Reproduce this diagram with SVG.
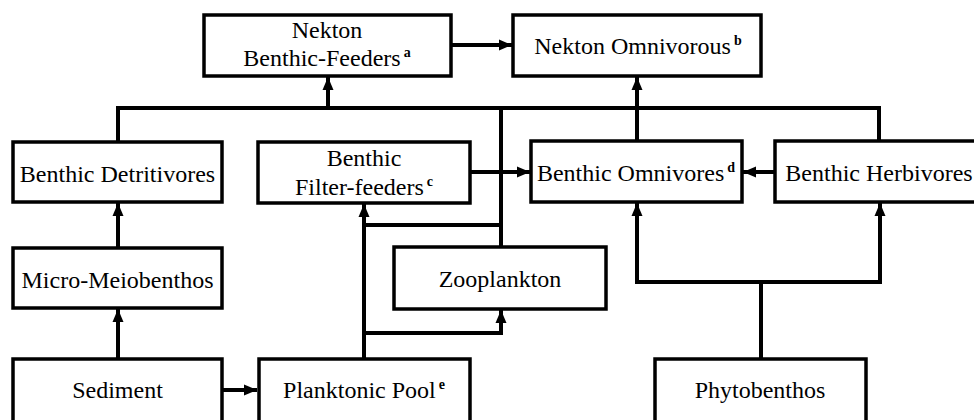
<svg xmlns="http://www.w3.org/2000/svg" width="974" height="420" viewBox="0 0 974 420">
<style>
.box{fill:#fff;stroke:#000;stroke-width:3.5}
.lbl{font-family:"Liberation Serif","Times New Roman",serif;font-size:24px;fill:#000;text-anchor:middle}
.sup{font-weight:bold;font-size:14px}
.c{fill:none;stroke:#000;stroke-width:4}
.a{marker-end:url(#ah)}
</style>
<defs>
<marker id="ah" markerUnits="userSpaceOnUse" markerWidth="14" markerHeight="12" refX="13" refY="6" orient="auto">
<path d="M0,0.5 L13,6 L0,11.5 z" fill="#000"/>
</marker>
</defs>
<rect width="974" height="420" fill="#fff"/>
<g id="connectors">
<path class="c" d="M118,142 V108 H879 V141"/>
<path class="c a" d="M328,108 V77"/>
<path class="c" d="M501,247 V108"/>
<path class="c a" d="M637,141 V77"/>
<path class="c a" d="M451,45 H512"/>
<path class="c a" d="M470,172 H530"/>
<path class="c a" d="M775,172 H743"/>
<path class="c a" d="M118,248 V203"/>
<path class="c a" d="M118,358 V309"/>
<path class="c a" d="M222,390 H257"/>
<path class="c a" d="M364,358 V204"/>
<path class="c" d="M364,225 H501"/>
<path class="c a" d="M364,333 H501 V310"/>
<path class="c" d="M761,358 V282"/>
<path class="c a" d="M761,282 H637 V203"/>
<path class="c a" d="M761,282 H880 V203"/>
</g>
<g id="nekton-benthic-feeders">
<rect class="box" x="204" y="15" width="247" height="61"/>
<text class="lbl" x="327" y="38">Nekton</text>
<text class="lbl" x="327" y="66">Benthic-Feeders<tspan class="sup" dx="3" dy="-9">a</tspan></text>
</g>
<g id="nekton-omnivorous">
<rect class="box" x="513" y="15" width="248" height="61"/>
<text class="lbl" x="638" y="54">Nekton Omnivorous<tspan class="sup" dx="3" dy="-9">b</tspan></text>
</g>
<g id="benthic-detritivores">
<rect class="box" x="13" y="142" width="209" height="60"/>
<text class="lbl" x="117.5" y="182">Benthic Detritivores</text>
</g>
<g id="benthic-filter-feeders">
<rect class="box" x="258" y="142" width="212" height="61"/>
<text class="lbl" x="364" y="166">Benthic</text>
<text class="lbl" x="364" y="195">Filter-feeders<tspan class="sup" dx="3" dy="-9">c</tspan></text>
</g>
<g id="benthic-omnivores">
<rect class="box" x="531" y="141" width="211" height="61"/>
<text class="lbl" x="636" y="181">Benthic Omnivores<tspan class="sup" dx="3" dy="-9">d</tspan></text>
</g>
<g id="benthic-herbivores">
<rect class="box" x="775" y="141" width="208" height="61"/>
<text class="lbl" x="879" y="181">Benthic Herbivores</text>
</g>
<g id="micro-meiobenthos">
<rect class="box" x="13" y="248" width="209" height="60"/>
<text class="lbl" x="117.5" y="288">Micro-Meiobenthos</text>
</g>
<g id="zooplankton">
<rect class="box" x="394" y="247" width="212" height="62"/>
<text class="lbl" x="500" y="287">Zooplankton</text>
</g>
<g id="sediment">
<rect class="box" x="13" y="359" width="209" height="70"/>
<text class="lbl" x="117.5" y="398">Sediment</text>
</g>
<g id="planktonic-pool">
<rect class="box" x="259" y="359" width="211" height="70"/>
<text class="lbl" x="364" y="398">Planktonic Pool<tspan class="sup" dx="3" dy="-9">e</tspan></text>
</g>
<g id="phytobenthos">
<rect class="box" x="655" y="359" width="211" height="70"/>
<text class="lbl" x="760" y="398">Phytobenthos</text>
</g>
</svg>
